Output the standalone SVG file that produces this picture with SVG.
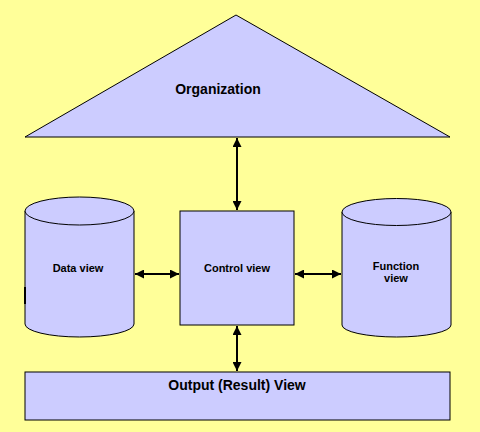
<svg xmlns="http://www.w3.org/2000/svg" width="480" height="432" viewBox="0 0 480 432">
<style>
.shape{fill:#CCCCFF;stroke:#000;stroke-width:1}
.lbl{font-family:"Liberation Sans",Arial,sans-serif;font-weight:bold;fill:#000;text-anchor:middle}
.big{font-size:14px}
.small{font-size:11px}
.conn{stroke:#000;stroke-width:2;fill:none;marker-start:url(#ah);marker-end:url(#ah)}
</style>
<defs>
<marker id="ah" viewBox="0 0 10 10" refX="10" refY="5" markerWidth="5" markerHeight="4.5" orient="auto-start-reverse" markerUnits="strokeWidth">
<path d="M0,0 L10,5 L0,10 Z" fill="#000"/>
</marker>
</defs>
<rect width="480" height="432" fill="#FFFF99"/>
<g id="organization">
<polygon class="shape" points="236,15 450,137 25,137"/>
<text class="lbl big" x="218" y="94">Organization</text>
</g>
<g id="data-view">
<path class="shape" d="M25,211 L25,324 A54.5,13 0 0 0 134,324 L134,211"/>
<ellipse class="shape" cx="79.5" cy="211" rx="54.5" ry="14"/>
<line x1="25" y1="287" x2="25" y2="304" stroke="#000" stroke-width="2"/>
<text class="lbl small" x="78" y="272">Data view</text>
</g>
<g id="control-view">
<rect class="shape" x="180" y="211" width="114" height="114"/>
<text class="lbl small" x="237" y="272">Control view</text>
</g>
<g id="function-view">
<path class="shape" d="M342,212 L342,325 A54.5,12 0 0 0 451,325 L451,212"/>
<ellipse class="shape" cx="396.5" cy="212" rx="54.5" ry="13.5"/>
<text class="lbl small" x="396" y="270">Function</text>
<text class="lbl small" x="396" y="282">view</text>
</g>
<g id="output-view">
<rect class="shape" x="25" y="372" width="425" height="48"/>
<text class="lbl big" x="237" y="390">Output (Result) View</text>
</g>
<g id="connectors">
<line class="conn" x1="237" y1="138" x2="237" y2="210"/>
<line class="conn" x1="135" y1="274" x2="179" y2="274"/>
<line class="conn" x1="295" y1="274" x2="341" y2="274"/>
<line class="conn" x1="237" y1="326" x2="237" y2="371"/>
</g>
</svg>
